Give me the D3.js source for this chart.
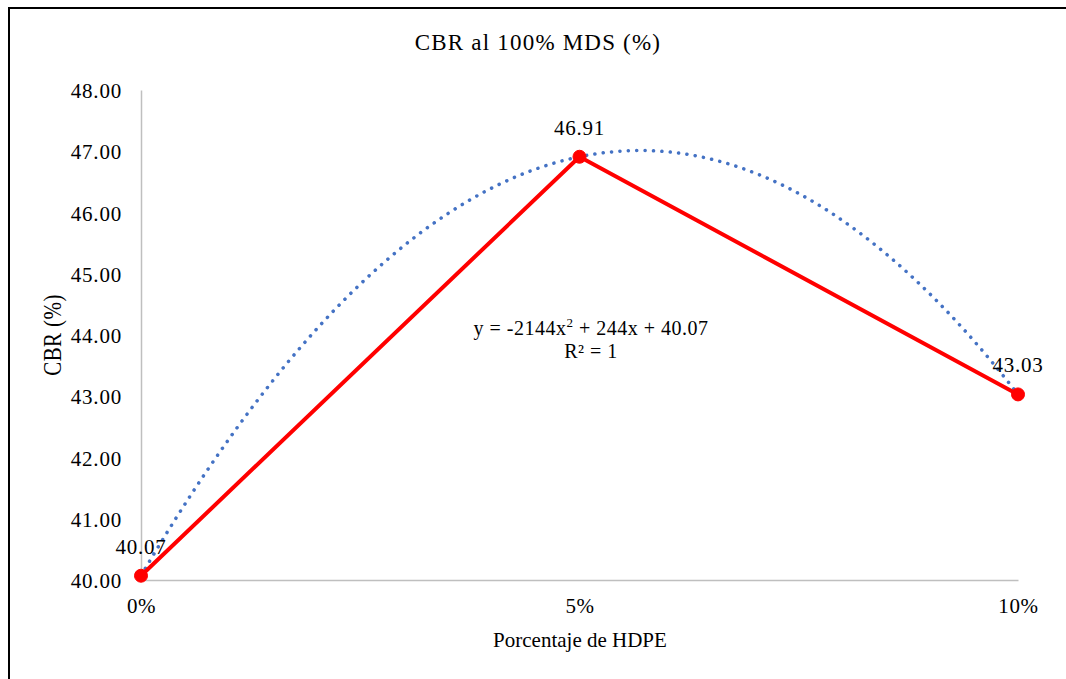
<!DOCTYPE html>
<html>
<head>
<meta charset="utf-8">
<script src="https://cdn.jsdelivr.net/npm/d3@7"></script>
<style>
  html, body { margin: 0; padding: 0; background: #fff; }
  svg { display: block; }
  text { font-family: "Liberation Serif", "Times New Roman", Times, serif; fill: #000; }
</style>
</head>
<body>
<svg id="chart" width="1066" height="679"></svg>
<script>
// ---- data ----
const categories = ["0%", "5%", "10%"];
const hdpe = [0, 0.05, 0.10];
const cbr = [40.07, 46.91, 43.03];
const yTicks = [40, 41, 42, 43, 44, 45, 46, 47, 48];
const trendCoef = [-2144, 244, 40.07]; // a x^2 + b x + c
const title = "CBR al 100% MDS (%)";
const xTitle = "Porcentaje de HDPE";
const yTitle = "CBR (%)";

// ---- layout ----
const SERIF = '"Liberation Serif", "Times New Roman", Times, serif';
const svg = d3.select("#chart");
const W = 1066, H = 679;
const m = { left: 141, right: 1018, top: 90, bottom: 580 };

svg.append("rect").attr("x", 0).attr("y", 0).attr("width", W).attr("height", H).attr("fill", "#fff");
svg.append("rect").attr("x", 9).attr("y", 8).attr("width", 1200).attr("height", 800)
  .attr("fill", "none").attr("stroke", "#000").attr("stroke-width", 2);

const x = d3.scaleLinear().domain([0, 0.10]).range([m.left, m.right]);
const y = d3.scaleLinear().domain([40, 48]).range([m.bottom, m.top]);

// axes
const yAxis = d3.axisLeft(y).tickValues(yTicks).tickSize(0).tickPadding(19)
  .tickFormat(d3.format(".2f"));
const gy = svg.append("g").attr("transform", `translate(${m.left},0)`).call(yAxis);
gy.attr("font-family", SERIF).attr("font-size", 21);
gy.select(".domain").attr("stroke", "#bfbfbf").attr("stroke-width", 1.5);
gy.selectAll("text").attr("fill", "#000").style("letter-spacing", "0.8px").attr("dy", "0.36em");

const xAxis = d3.axisBottom(x).tickValues(hdpe).tickSize(0).tickPadding(18)
  .tickFormat((d, i) => categories[i]);
const gx = svg.append("g").attr("transform", `translate(0,${m.bottom})`).call(xAxis);
gx.attr("font-family", SERIF).attr("font-size", 21);
gx.select(".domain").attr("stroke", "#bfbfbf").attr("stroke-width", 1.5);
gx.selectAll("text").attr("fill", "#000").style("letter-spacing", "0.6px");

// titles
svg.append("text").attr("x", 538).attr("y", 50).attr("text-anchor", "middle")
  .style("font-size", "23px").style("letter-spacing", "1.2px").text(title);
svg.append("text").attr("x", 580).attr("y", 647).attr("text-anchor", "middle")
  .style("font-size", "21px").text(xTitle);
svg.append("text").attr("transform", "translate(61,335) rotate(-90) scale(1,1.2)").attr("text-anchor", "middle")
  .style("font-size", "21px").style("letter-spacing", "0.4px").text(yTitle);

// trendline (polynomial order 2)
const trendX = d3.range(0, 0.10 + 1e-9, 0.001);
const trend = trendX.map(v => [v, trendCoef[0] * v * v + trendCoef[1] * v + trendCoef[2]]);
svg.append("path").datum(trend)
  .attr("d", d3.line().x(d => x(d[0])).y(d => y(d[1])).curve(d3.curveMonotoneX))
  .attr("fill", "none").attr("stroke", "#4472C4").attr("stroke-width", 3.5)
  .attr("stroke-linecap", "round").attr("stroke-dasharray", "0.1 8.3");

// series line
const pts = hdpe.map((v, i) => [v, cbr[i]]);
svg.append("path").datum(pts)
  .attr("d", d3.line().x(d => x(d[0])).y(d => y(d[1])))
  .attr("fill", "none").attr("stroke", "#FF0000").attr("stroke-width", 4)
  .attr("stroke-linejoin", "round");

svg.selectAll("circle.pt").data(pts).enter().append("circle")
  .attr("class", "pt").attr("cx", d => x(d[0])).attr("cy", d => y(d[1])).attr("r", 6.5)
  .attr("fill", "#FF0000").attr("stroke", "#FF0000").attr("stroke-width", 1);

// data labels
svg.selectAll("text.lbl").data(pts).enter().append("text")
  .attr("class", "lbl").attr("x", d => x(d[0])).attr("y", d => y(d[1]) - 22)
  .attr("text-anchor", "middle").style("font-size", "21px").style("letter-spacing", "0.8px")
  .text(d => d[1].toFixed(2));

// trendline equation
const eq = svg.append("text").attr("x", 591).attr("y", 335).attr("text-anchor", "middle")
  .style("font-size", "20px").style("letter-spacing", "0.5px");
eq.append("tspan").text("y = -2144x");
eq.append("tspan").attr("dy", -8).style("font-size", "13px").text("2");
eq.append("tspan").attr("dy", 8).text(" + 244x + 40.07");
svg.append("text").attr("x", 591).attr("y", 358).attr("text-anchor", "middle")
  .style("font-size", "20px").style("letter-spacing", "0.5px").text("R² = 1");
</script>
</body>
</html>
